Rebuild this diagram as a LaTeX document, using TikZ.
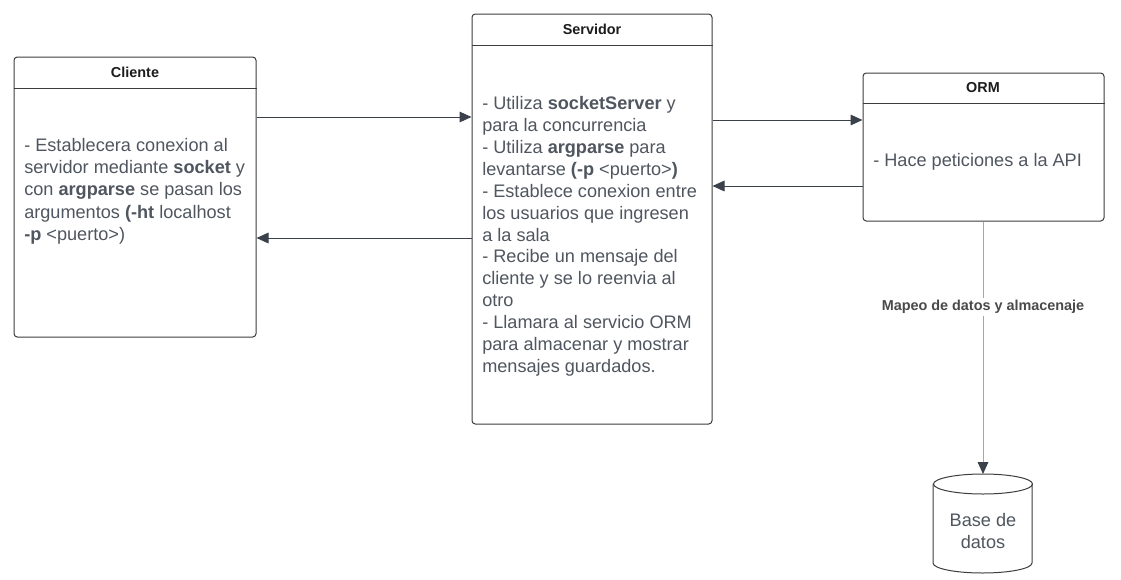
\documentclass[tikz,border=0pt]{standalone}
\usepackage{fontspec}
\setmainfont{Liberation Sans}
\usetikzlibrary{arrows.meta,fit}
\definecolor{bordc}{HTML}{3D3D3D}
\definecolor{arrc}{HTML}{3A414A}
\definecolor{txtc}{HTML}{50565F}
\definecolor{headc}{HTML}{1C1C1C}
\definecolor{greyline}{HTML}{A3A7AD}
\definecolor{lblc}{HTML}{4A4A4A}
\tikzset{
  box/.style={draw=bordc, line width=0.75pt, rounded corners=2.5pt, inner sep=0pt, fill=white},
  headline/.style={draw=bordc, line width=0.75pt},
  headtxt/.style={text=headc, font=\fontsize{10.8}{13}\selectfont\bfseries, inner sep=0pt},
  bodytxt/.style={text=txtc, font=\fontsize{13.6}{16.7}\selectfont, align=left, inner sep=0pt, anchor=north west},
  arr/.style={draw=arrc, line width=0.75pt, -{Triangle[length=9pt,width=8pt]}},
  lbl/.style={text=lblc, font=\fontsize{10.8}{13}\selectfont\bfseries, fill=white, inner sep=2pt},
}
\begin{document}
\begin{tikzpicture}[x=0.75pt,y=-0.75pt]
\useasboundingbox (0,0) rectangle (1121,579);
% boxes
\node[box, fit={(14,57) (256,337)}] (cli) {};
\node[box, fit={(472,14) (712,424)}] (srv) {};
\node[box, fit={(863,73) (1104,221)}] (orm) {};
% header lines
\coordinate (clih) at (14,88);
\coordinate (srvh) at (472,45);
\coordinate (ormh) at (863,103);
\draw[headline] (cli.west |- clih) -- (cli.east |- clih);
\draw[headline] (srv.west |- srvh) -- (srv.east |- srvh);
\draw[headline] (orm.west |- ormh) -- (orm.east |- ormh);
% headers
\node[headtxt] (clit) at (135,72) {Cliente};
\node[headtxt] (srvt) at (592,29) {Servidor};
\node[headtxt] (ormt) at (983,88) {ORM};
% body texts
\node[bodytxt] (clib) at (24,138) {- Establecera conexion al\\
servidor mediante \textbf{socket} y\\
con \textbf{argparse} se pasan los\\
argumentos \textbf{(-ht} localhost\\
\textbf{-p} <puerto>)};
\node[bodytxt, font=\fontsize{13.6}{16.45}\selectfont] (srvb) at (482,96) {- Utiliza \textbf{socketServer} y\\
para la concurrencia\\
- Utiliza \textbf{argparse} para\\
levantarse \textbf{(-p} <puerto>\textbf{)}\\
- Establece conexion entre\\
los usuarios que ingresen\\
a la sala\\
- Recibe un mensaje del\\
cliente y se lo reenvia al\\
otro\\
- Llamara al servicio ORM\\
para almacenar y mostrar\\
mensajes guardados.};
\node[bodytxt] (ormb) at (873,153) {- Hace peticiones a la API};
% database cylinder
\coordinate (dbc) at (983,484);
\draw[bordc, line width=0.75pt, fill=white] (933,484) -- (933,563) arc[start angle=180, end angle=360, x radius=37.125pt, y radius=7.5pt] -- (1032,484);
\draw[bordc, line width=0.75pt] (dbc) ellipse [x radius=37.125pt, y radius=7.5pt];
\node[inner sep=0pt, minimum width=74pt, minimum height=74pt] (db) at (983,523.5) {};
\node[text=txtc, font=\fontsize{13.6}{16.5}\selectfont, align=center, inner sep=0pt] (dbt) at (983,531) {Base de\\datos};
\coordinate (dbtop) at (983,474);
% connectors
\coordinate (y1) at (0,117);
\coordinate (y2) at (0,238);
\coordinate (y3) at (0,120);
\coordinate (y4) at (0,186);
\draw[arr] (cli.east |- y1) -- (srv.west |- y1);
\draw[arr] (srv.west |- y2) -- (cli.east |- y2);
\draw[arr] (srv.east |- y3) -- (orm.west |- y3);
\draw[arr] (orm.west |- y4) -- (srv.east |- y4);
\draw[draw=greyline, line width=0.75pt, -{Triangle[length=9pt,width=8pt,color=arrc]}] (orm.south -| dbtop) -- (dbtop);
\node[lbl] (maplbl) at (983,307) {Mapeo de datos y almacenaje};
\end{tikzpicture}
\end{document}
